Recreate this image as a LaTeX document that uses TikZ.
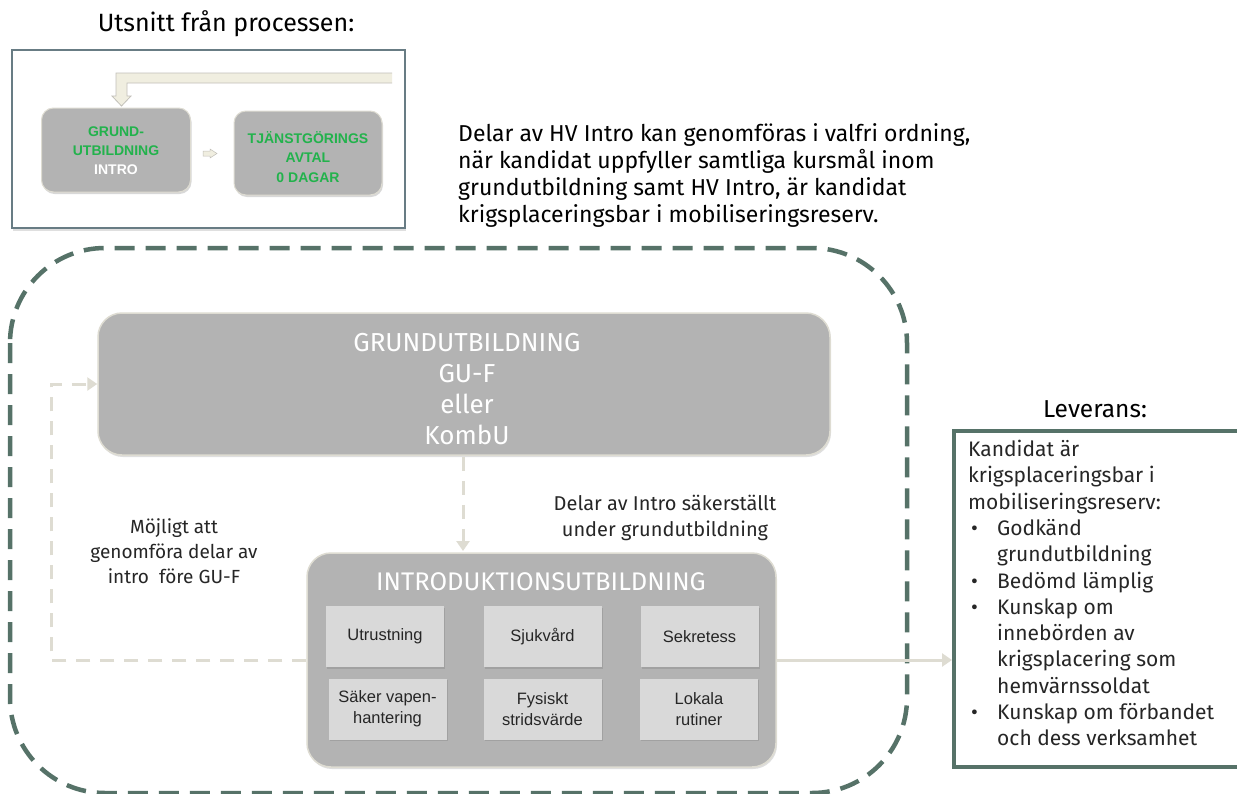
\documentclass[tikz,border=0pt]{standalone}
\usepackage{fontspec}
\setmainfont{Fira Sans}
\newfontfamily\arialf{Liberation Sans}
\usetikzlibrary{arrows.meta,shadows}
\definecolor{frameg}{RGB}{86,114,104}
\definecolor{slate}{RGB}{104,124,132}
\definecolor{boxg}{RGB}{179,179,179}
\definecolor{innerg}{RGB}{217,217,217}
\definecolor{cream}{RGB}{222,220,210}
\definecolor{creamf}{RGB}{240,238,224}
\definecolor{greentxt}{RGB}{34,178,76}
\tikzset{
  bigbox/.style={draw=cream,line width=1.5pt,fill=boxg,rounded corners=24pt,
    drop shadow={shadow xshift=1pt,shadow yshift=-2pt,opacity=0.25}},
  smallbox/.style={draw=cream,line width=1pt,fill=boxg,rounded corners=12pt,
    drop shadow={shadow xshift=1pt,shadow yshift=-2pt,opacity=0.3}},
  innerbox/.style={fill=innerg,minimum width=118pt,minimum height=61pt,inner sep=0pt,
    align=center,font=\arialf\fontsize{16.5}{21}\selectfont,text=black!85,
    drop shadow={shadow xshift=1pt,shadow yshift=-1.5pt,opacity=0.35}},
  lbl/.style={align=center,text=black!85},
  conn/.style={draw=cream,line width=3pt},
}
\begin{document}
\begin{tikzpicture}[x=1pt,y=-1pt]
\useasboundingbox (0,0) rectangle (1237,793);
\fill[white] (0,0) rectangle (1237,793);

% title
\node[lbl,text=black,font=\fontsize{25}{29}\selectfont] (title) at (226,24) {Utsnitt från processen:};

% top-left frame
\node[draw=slate,line width=2pt,fill=white,minimum width=393pt,minimum height=178pt,inner sep=0pt,
  drop shadow={shadow xshift=1pt,shadow yshift=-3pt,opacity=0.25}] (frame) at (208.5,139) {};
% pipe arrow
\filldraw[fill=creamf,draw=cream!70!gray,line width=0.8pt]
  (392,73) -- (116,73) -- (116,96) -- (112,96) -- (121.5,106) -- (131,96) -- (127,96) -- (127,83) -- (392,83);
\node[smallbox,minimum width=149pt,minimum height=84pt,inner sep=0pt] (gru) at (116,150) {};
\node[align=center,font=\arialf\bfseries\fontsize{14}{19}\selectfont] at (116,151)
  {\textcolor{greentxt}{GRUND-}\\\textcolor{greentxt}{UTBILDNING}\\\textcolor{white}{INTRO}};
\node[smallbox,minimum width=148pt,minimum height=84pt,inner sep=0pt] (tja) at (308,153) {};
\node[align=center,text=greentxt,font=\arialf\bfseries\fontsize{14}{19.5}\selectfont] at (308,157)
  {TJÄNSTGÖRINGS\\AVTAL\\0 DAGAR};
\filldraw[fill=creamf,draw=cream!70!gray,line width=0.5pt]
  (203,151) -- (210,151) -- (210,149) -- (217,153.5) -- (210,158) -- (210,156) -- (203,156) -- cycle;

% paragraph
\node[anchor=north west,align=left,text=black,font=\fontsize{23}{27}\selectfont,inner sep=0pt] (para) at (458,123)
  {Delar av HV Intro kan genomföras i valfri ordning,\\
   när kandidat uppfyller samtliga kursmål inom\\
   grundutbildning samt HV Intro, är kandidat\\
   krigsplaceringsbar i mobiliseringsreserv.};

% big dashed frame
\draw[frameg,line width=4.5pt,dash pattern=on 20pt off 11pt,rounded corners=95pt]
  (10,248) rectangle (907,793);

% GRUNDUTBILDNING box
\node[bigbox,minimum width=732pt,minimum height=142pt,inner sep=0pt] (gu) at (464,384) {};
\node[align=center,text=white,font=\fontsize{26}{31.3}\selectfont] (gut) at (467,389)
  {GRUNDUTBILDNING\\GU-F\\eller\\KombU};

% INTRO box
\node[bigbox,minimum width=469pt,minimum height=214pt,inner sep=0pt] (intro) at (541.5,660) {};
\node[text=white,font=\fontsize{25.5}{30}\selectfont] (introt) at (541,582) {INTRODUKTIONSUTBILDNING};
\node[innerbox] (b1) at (385,636.5) {Utrustning};
\node[innerbox] (b2) at (542.5,636.5) {Sjukvård};
\node[innerbox] (b3) at (699.5,636.5) {Sekretess};
\node[innerbox] (b4) at (387.5,709) {Säker vapen-\\hantering};
\node[innerbox] (b5) at (542.5,709) {Fysiskt\\stridsvärde};
\node[innerbox] (b6) at (699,709) {Lokala\\rutiner};

% connectors
\draw[conn,dash pattern=on 14pt off 10pt,-{Triangle[length=10pt,width=13pt,fill=cream]}]
  (gu.south -| 463,0) ++(0,1) -- (463,551);
\coordinate (lc1) at (51,660);
\coordinate (lc2) at (51,384);
\draw[conn,dash pattern=on 14pt off 10pt,-{Triangle[length=10pt,width=13pt,fill=cream]}]
  (intro.west |- 0,660) -- (lc1) -- (lc2) -- (gu.west |- 0,384);

% Leverans box
\node[draw=frameg,line width=4pt,fill=white,minimum width=300pt,minimum height=336pt,inner sep=0pt,anchor=north west] (lev) at (952,429) {};
\draw[line width=3pt,draw=cream,-{Triangle[length=10pt,width=13pt,fill=cream]}]
  (intro.east |- 0,660) -- (lev.west |- 0,660);
\node[lbl,text=black,font=\fontsize{24.5}{28}\selectfont] (levt) at (1095,409) {Leverans:};
\node[anchor=north west,align=left,text=black!85,font=\fontsize{21}{26.3}\selectfont,inner sep=0pt] (levtxt) at (968,440)
  {Kandidat är\\
   krigsplaceringsbar i\\
   mobiliseringsreserv:\\
   \makebox[29pt][l]{\hspace{3pt}•}Godkänd\\
   \hspace*{29pt}grundutbildning\\
   \makebox[29pt][l]{\hspace{3pt}•}Bedömd lämplig\\
   \makebox[29pt][l]{\hspace{3pt}•}Kunskap om\\
   \hspace*{29pt}innebörden av\\
   \hspace*{29pt}krigsplacering som\\
   \hspace*{29pt}hemvärnssoldat\\
   \makebox[29pt][l]{\hspace{3pt}•}Kunskap om förbandet\\
   \hspace*{29pt}och dess verksamhet};

% labels
\node[lbl,font=\fontsize{19}{25}\selectfont] (mojl) at (174,551)
  {Möjligt att\\genomföra delar av\\intro\ \ före GU-F};
\node[lbl,font=\fontsize{20}{26}\selectfont] (delar) at (665,518)
  {Delar av Intro säkerställt\\under grundutbildning};
\end{tikzpicture}
\end{document}
